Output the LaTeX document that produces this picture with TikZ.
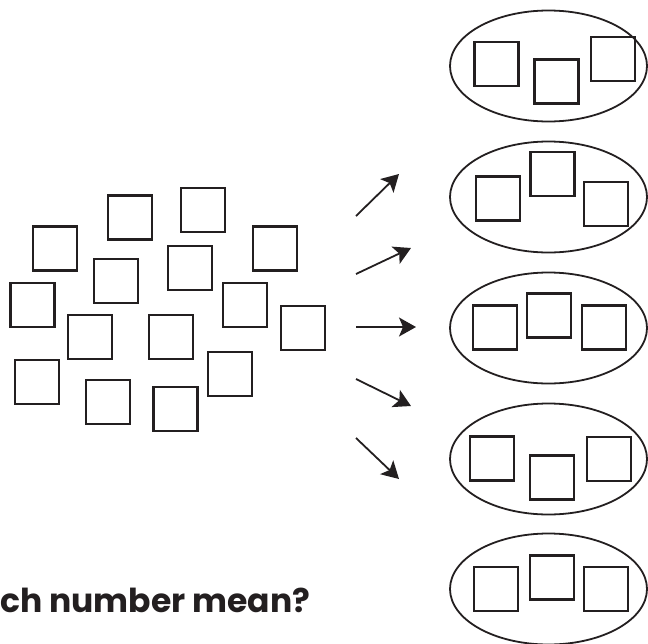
\documentclass[tikz,border=0pt]{standalone}
\usepackage{xcolor}
\usepackage{fontspec}
\setmainfont{Poppins}
\usetikzlibrary{shapes.geometric,arrows.meta}
\definecolor{ink}{HTML}{231F20}

\begin{document}
\begin{tikzpicture}[x=1pt,y=-1pt,ink,
    box/.style={draw=ink,line width=2.2pt,minimum size=44pt,inner sep=0pt},
    group/.style={draw=ink,ellipse,line width=1.8pt,minimum width=197pt,minimum height=111pt,inner sep=0pt},
    pick/.style={-{Stealth[length=17pt,width=19pt,inset=4pt]},line width=1.8pt}]
  \useasboundingbox (0,0) rectangle (648,643);
  % the loose boxes
  \foreach \n/\x/\y in {1/55/248.5,2/130/217.5,3/203/210,4/275/248.5,5/116/281,
      6/190/268,7/32.5/305,8/245/305,9/303/328,10/90/337,11/171/337,
      12/230/374,13/37/382,14/108/402,15/175.5/409}
    \node[box] (q\n) at (\x,\y) {};
  % the groups of three
  \foreach \k/\y in {1/66,2/197,3/328,4/459,5/589}
    \node[group] (e\k) at (548.5,\y) {};
  \foreach \k/\ax/\ay/\bx/\by/\cx/\cy in {1/-52/-2/8/15.5/64.5/-7,
      2/-50.5/1.5/4/-23/57.5/7, 3/-53.5/-0.5/0.5/-12.5/55.5/-0.5,
      4/-56.5/-0.5/3.5/18.5/60.5/0, 5/-52.5/0/3.5/-11.5/57.5/0}{
    \node[box] (e\k-1) at ([shift={(\ax,\ay)}]e\k.center) {};
    \node[box] (e\k-2) at ([shift={(\bx,\by)}]e\k.center) {};
    \node[box] (e\k-3) at ([shift={(\cx,\cy)}]e\k.center) {};
  }
  % arrows
  \foreach \k/\sx/\sy/\tx/\ty in {1/356/216/399/174,2/356/274/411/248,3/356/327/416/327,
      4/356/379/411/406,5/356/438/399/479}{
    \coordinate (s\k) at (\sx,\sy);
    \coordinate (t\k) at (\tx,\ty);
    \draw[pick] (s\k) -- (t\k);
  }
  \node[anchor=base west,inner sep=0pt,font=\bfseries\fontsize{33}{40}\selectfont] (question) at (0,612) {ch number mean?};
\end{tikzpicture}
\end{document}
